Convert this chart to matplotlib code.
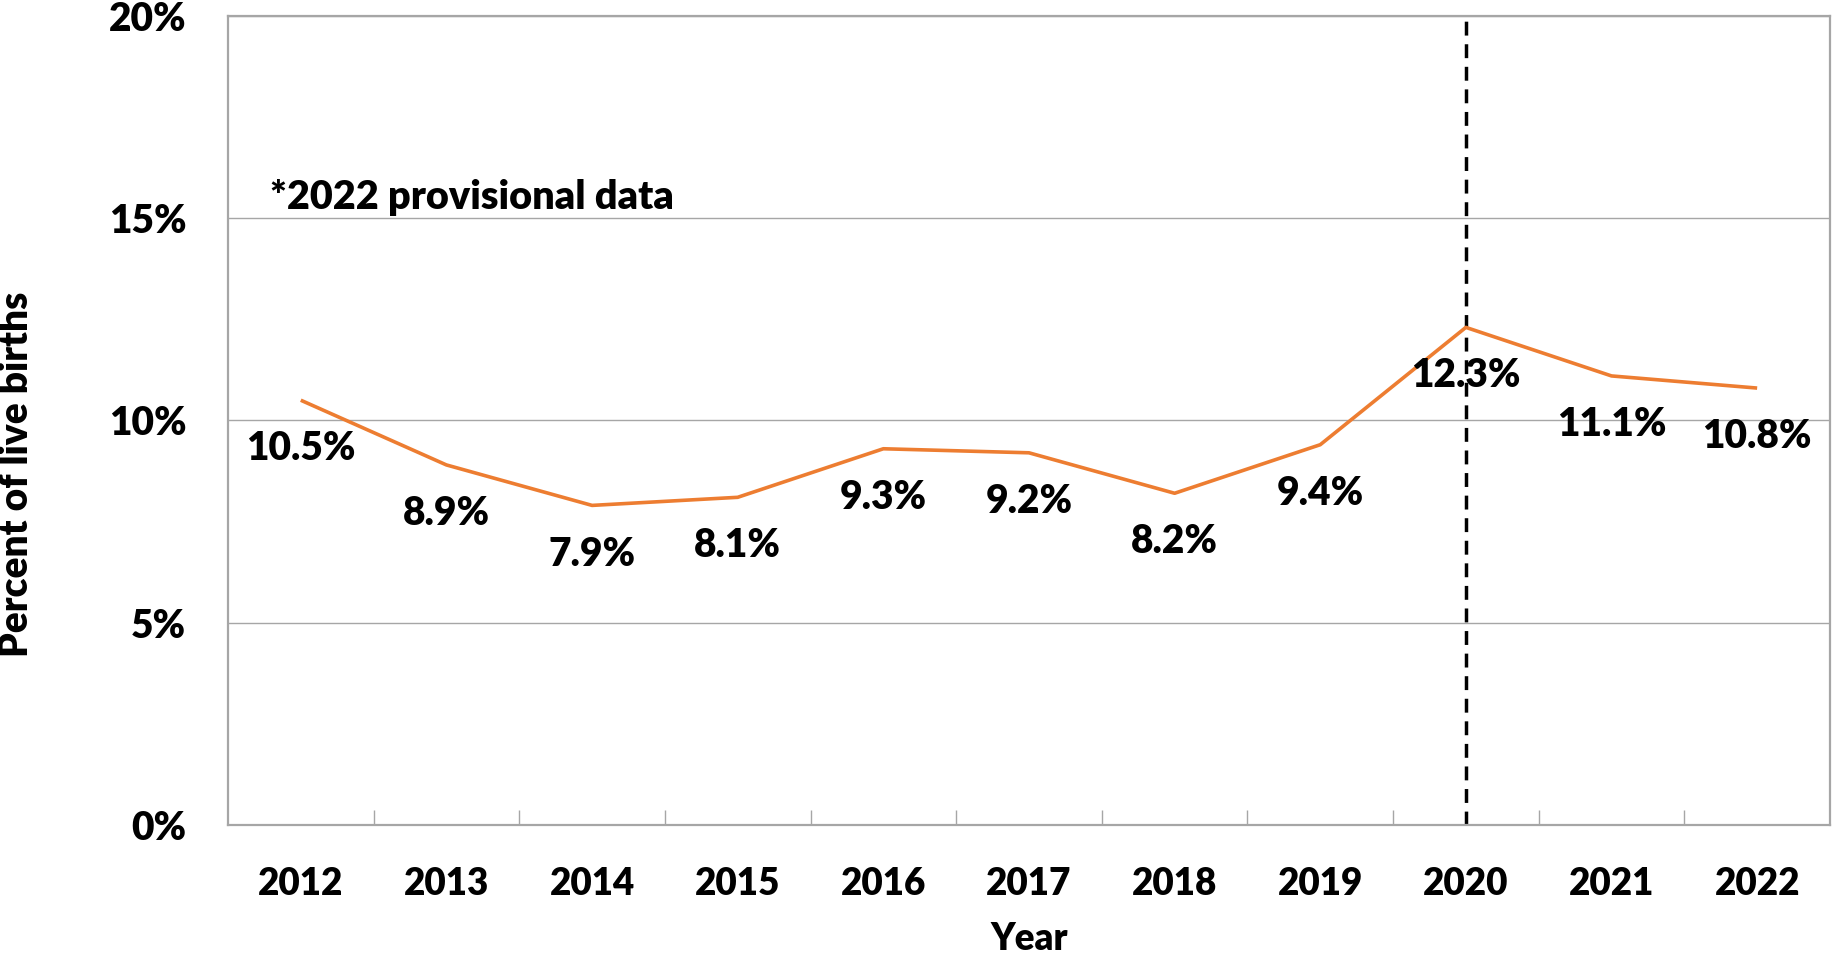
import numpy as np
import matplotlib
matplotlib.use('Agg')
import matplotlib.pyplot as plt
from matplotlib.ticker import FixedLocator, FuncFormatter

plt.rcParams['font.family'] = ['Lato', 'DejaVu Sans']
plt.rcParams['font.weight'] = 'heavy'

# ==================== 数据 ====================
years = ['2012', '2013', '2014', '2015', '2016', '2017', '2018', '2019', '2020', '2021', '2022']
pct = [10.5, 8.9, 7.9, 8.1, 9.3, 9.2, 8.2, 9.4, 12.3, 11.1, 10.8]
y_ticks = [0, 5, 10, 15, 20]
marker_year = '2020'
note_text = '*2022 provisional data'

LINE_COLOR = '#ED7D31'
GRID_COLOR = '#A6A6A6'
FW = 'heavy'

fig = plt.figure(figsize=(18.34, 9.61), dpi=100)
ax = fig.add_axes([0.1243, 0.1415, 0.8735, 0.842])

x = np.arange(len(years))
ax.plot(x, pct, color=LINE_COLOR, linewidth=2.6, solid_capstyle='butt', zorder=3)

# 数据标签：点下方
for xi, v in zip(x, pct):
    ax.annotate(f'{v:.1f}%', (xi, v), xytext=(0, -35), textcoords='offset points',
                ha='center', va='center', fontsize=28, fontweight=FW, color='black', zorder=4)

# 2020 虚线
xm = years.index(marker_year)
ax.axvline(xm, color='black', linestyle=(0, (4, 2.5)), linewidth=2.5, zorder=2)

ax.set_xlim(-0.5, len(years) - 0.5)
ax.set_ylim(0, 20)

# y 轴
ax.set_yticks(y_ticks)
ax.yaxis.set_major_formatter(FuncFormatter(lambda v, p: f'{v:.0f}%'))
ax.tick_params(axis='y', length=0, pad=30, labelsize=28)
for lab in ax.get_yticklabels():
    lab.set_fontweight(FW)
ax.grid(axis='y', color=GRID_COLOR, linewidth=1.0, zorder=1)

# x 轴：类别标签居中，刻度线在类别之间
ax.set_xticks(x)
ax.set_xticklabels(years, fontweight=FW)
ax.tick_params(axis='x', which='major', length=0, pad=30, labelsize=26.5)
ax.xaxis.set_minor_locator(FixedLocator(np.arange(0.5, len(years) - 1, 1.0)))
ax.tick_params(axis='x', which='minor', direction='in', length=11, width=1.0, color=GRID_COLOR)

for s in ax.spines.values():
    s.set_color(GRID_COLOR)
    s.set_linewidth(1.6)

ax.text(0.026, 0.775, note_text, transform=ax.transAxes, fontsize=28.5, fontweight=FW,
        ha='left', va='center')

fig.text(1029 / 1834, 1 - 939 / 961, 'Year', ha='center', va='center', fontsize=26.5, fontweight=FW)
fig.text(17 / 1834, 1 - 474 / 961, 'Percent of live births', ha='center', va='center',
         rotation=90, fontsize=28, fontweight=FW)

fig.savefig('out.png', dpi=100)
